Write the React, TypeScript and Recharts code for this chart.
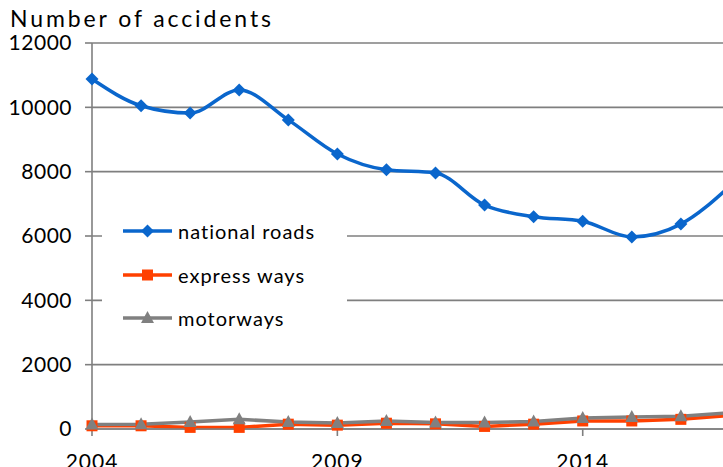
import React from 'react';
import { LineChart, Line, XAxis, YAxis, CartesianGrid, Legend } from 'recharts';

const years = [2004, 2005, 2006, 2007, 2008, 2009, 2010, 2011, 2012, 2013, 2014, 2015, 2016, 2017];
const nationalRoads = [10880, 10050, 9820, 10540, 9610, 8550, 8060, 7960, 6960, 6600, 6460, 5970, 6370, 7550];
const expressWays = [100, 100, 50, 50, 150, 120, 180, 160, 80, 150, 250, 250, 300, 420];
const motorways = [140, 150, 220, 300, 220, 190, 250, 200, 200, 230, 340, 370, 400, 500];
const xTicks = [2004, 2009, 2014];
const yTicks = [0, 2000, 4000, 6000, 8000, 10000, 12000];

const data = years.map((y, i) => ({
  year: y,
  national: nationalRoads[i],
  express: expressWays[i],
  motor: motorways[i],
}));

const BLUE = '#0a66cc';
const RED = '#ff4000';
const GRAY = '#808080';
const FONT = 'Lato, "Noto Sans", sans-serif';

const Diamond = (props: any) => {
  const { cx, cy, index } = props;
  if (cx == null || cy == null) return <g key={index} />;
  return <path key={index} d={`M${cx},${cy - 6.5}L${cx + 6.5},${cy}L${cx},${cy + 6.5}L${cx - 6.5},${cy}Z`} fill={BLUE} />;
};
const Square = (props: any) => {
  const { cx, cy, index } = props;
  if (cx == null || cy == null) return <g key={index} />;
  return <rect key={index} x={cx - 5.5} y={cy - 5.5} width={11} height={11} fill={RED} />;
};
const Triangle = (props: any) => {
  const { cx, cy, index } = props;
  if (cx == null || cy == null) return <g key={index} />;
  return <path key={index} d={`M${cx},${cy - 7}L${cx + 6.5},${cy + 5}L${cx - 6.5},${cy + 5}Z`} fill={GRAY} />;
};

const legendItems = [
  { name: 'national roads', color: BLUE, shape: 'diamond' },
  { name: 'express ways', color: RED, shape: 'square' },
  { name: 'motorways', color: GRAY, shape: 'triangle' },
];

const LegendContent = () => (
  <div style={{ width: 245, height: 140, background: '#fff', position: 'relative' }}>
    {legendItems.map((it, i) => (
      <div key={it.name} style={{ position: 'absolute', left: 0, top: 26 + i * 43.5 - 15, height: 30, display: 'flex', alignItems: 'center' }}>
        <svg width={76} height={30} style={{ display: 'block' }}>
          <line x1={21} y1={15} x2={70} y2={15} stroke={it.color} strokeWidth={3.5} />
          {it.shape === 'diamond' && <path d="M45.5,8.5L52,15L45.5,21.5L39,15Z" fill={it.color} />}
          {it.shape === 'square' && <rect x={40} y={9.5} width={11} height={11} fill={it.color} />}
          {it.shape === 'triangle' && <path d="M45.5,8L52,20L39,20Z" fill={it.color} />}
        </svg>
        <span style={{ fontFamily: FONT, fontSize: 20, letterSpacing: 1, color: '#000', whiteSpace: 'nowrap' }}>{it.name}</span>
      </div>
    ))}
  </div>
);

export default function App() {
  return (
    <div style={{ position: 'absolute', left: 0, top: 0, width: 723, height: 467, overflow: 'hidden', background: '#fff' }}>
      <div style={{ position: 'absolute', left: 10, top: 7, fontFamily: FONT, fontSize: 23, lineHeight: '23px', letterSpacing: 2.9, color: '#000', whiteSpace: 'nowrap' }}>
        Number of accidents
      </div>
      <LineChart width={800} height={467} data={data} margin={{ top: 43, right: 21, left: 0, bottom: 8 }}>
        <CartesianGrid horizontal={true} vertical={false} stroke="#7f7f7f" strokeWidth={1.6} />
        <XAxis
          dataKey="year"
          type="number"
          domain={[2004, 2018]}
          ticks={xTicks}
          height={30}
          tickSize={7}
          tickMargin={18}
          axisLine={{ stroke: '#7f7f7f', strokeWidth: 1.6 }}
          tickLine={{ stroke: '#7f7f7f', strokeWidth: 1.6 }}
          tick={{ fill: '#000', fontSize: 21, fontFamily: FONT, letterSpacing: 1 }}
          allowDecimals={false}
        />
        <YAxis
          type="number"
          domain={[0, 12000]}
          ticks={yTicks}
          width={92}
          tickSize={7}
          tickMargin={13}
          axisLine={{ stroke: '#7f7f7f', strokeWidth: 1.6 }}
          tickLine={{ stroke: '#7f7f7f', strokeWidth: 1.6 }}
          tick={{ fill: '#000', fontSize: 21, fontFamily: FONT, letterSpacing: 0.5 }}
        />
        <Legend
          layout="vertical"
          align="center"
          verticalAlign="middle"
          content={<LegendContent />}
          wrapperStyle={{ position: 'absolute', left: 102, top: 205, width: 245, height: 140 }}
        />
        <Line dataKey="national" name="national roads" type="monotone" stroke={BLUE} strokeWidth={3.5} dot={Diamond} activeDot={false} isAnimationActive={false} />
        <Line dataKey="express" name="express ways" type="linear" stroke={RED} strokeWidth={3.5} dot={Square} activeDot={false} isAnimationActive={false} />
        <Line dataKey="motor" name="motorways" type="linear" stroke={GRAY} strokeWidth={3.5} dot={Triangle} activeDot={false} isAnimationActive={false} />
      </LineChart>
    </div>
  );
}
